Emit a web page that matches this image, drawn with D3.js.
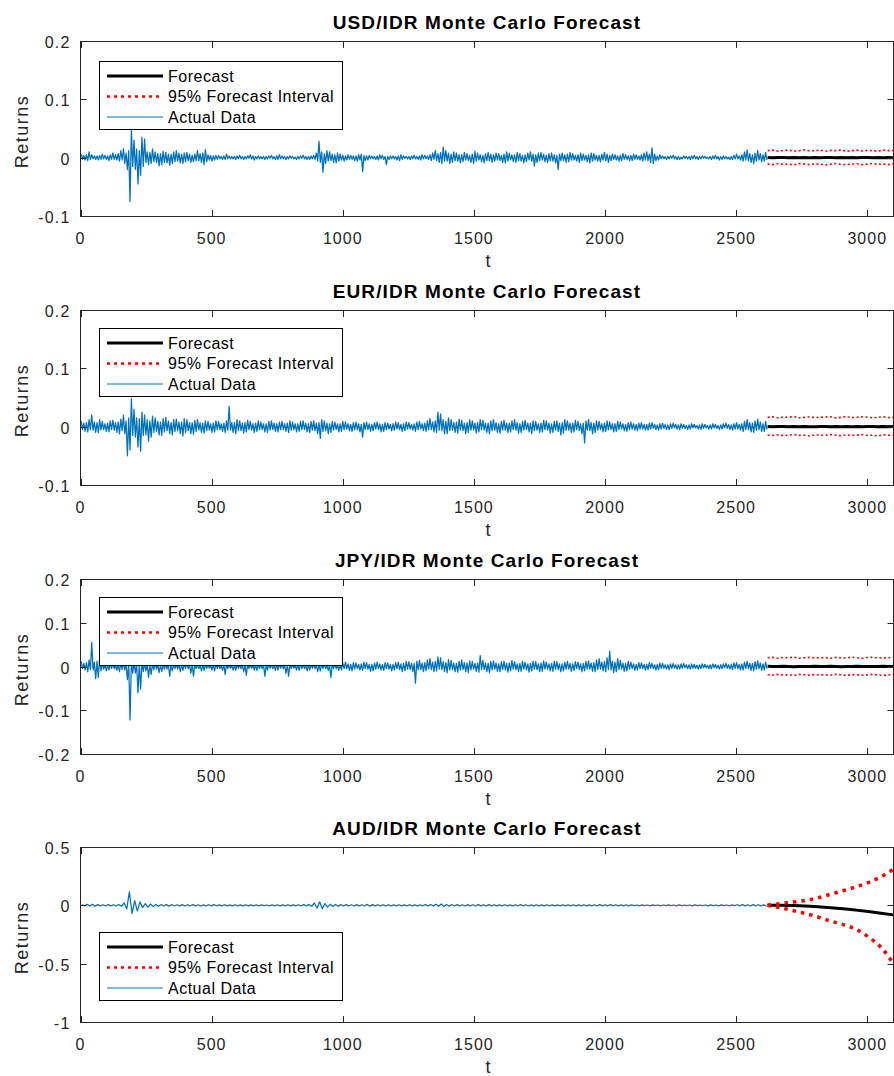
<!DOCTYPE html>
<html><head><meta charset="utf-8">
<script src="https://cdn.jsdelivr.net/npm/d3@7"></script>
<style>
body{margin:0;background:#fff}
svg{display:block}
text{font-family:"Liberation Sans",Arial,Helvetica,sans-serif}
</style>
</head><body>
<svg id="c" width="894" height="1076"></svg>
<script>
// ---------------- DATA (returns) ----------------
// Actual data read as alternating local highs / lows across t = 0..2620
const usdHi = [.006,.004,.005,.010,.005,.003,.003,.004,.006,.004,
.003,.005,.008,.005,.007,.012,.015,.008,.012,.050,
.030,.015,.012,.035,.032,.010,.009,.015,.010,.007,
.007,.011,.009,.006,.006,.010,.012,.008,.006,.008,
.009,.006,.004,.006,.012,.007,.008,.014,.005,.004,
.003,.004,.004,.002,.003,.006,.003,.002,.002,.003,
.004,.002,.002,.003,.005,.003,.002,.003,.002,.002,
.002,.003,.004,.002,.003,.005,.003,.002,.002,.003,
.002,.001,.002,.003,.004,.002,.002,.003,.004,.008,
.028,.010,.007,.012,.010,.006,.005,.008,.006,.004,
.003,.005,.004,.003,.003,.005,.006,.004,.003,.004,
.003,.002,.003,.005,.004,.002,.002,.003,.003,.002,
.003,.005,.003,.002,.002,.003,.004,.002,.003,.005,
.004,.003,.005,.008,.012,.007,.009,.018,.012,.008,
.006,.010,.008,.005,.005,.009,.007,.004,.006,.011,
.008,.005,.004,.007,.009,.006,.005,.008,.007,.004,
.006,.010,.008,.005,.005,.009,.007,.004,.005,.008,
.010,.006,.005,.008,.009,.006,.004,.007,.008,.005,
.004,.006,.008,.005,.006,.009,.007,.004,.005,.008,
.006,.004,.005,.008,.007,.004,.004,.006,.009,.006,
.004,.006,.005,.003,.004,.007,.005,.003,.004,.006,
.005,.003,.005,.008,.010,.006,.017,.006,.003,.005,
.003,.002,.002,.003,.004,.002,.002,.001,.003,.002,
.002,.003,.004,.002,.002,.003,.002,.001,.002,.003,
.004,.002,.002,.003,.002,.001,.002,.004,.006,.003,
.005,.010,.013,.007,.005,.008,.012,.007,.005,.009];
const usdLo = [-.003,-.004,-.005,-.003,-.002,-.003,-.004,-.003,-.002,-.003,
-.005,-.003,-.003,-.004,-.006,-.004,-.010,-.020,-.075,-.015,
-.020,-.045,-.030,-.015,-.008,-.012,-.010,-.007,-.008,-.014,
-.012,-.008,-.009,-.013,-.010,-.007,-.006,-.009,-.010,-.007,
-.005,-.008,-.007,-.005,-.005,-.008,-.012,-.007,-.004,-.006,
-.004,-.003,-.002,-.003,-.003,-.002,-.002,-.002,-.003,-.002,
-.002,-.003,-.002,-.001,-.002,-.004,-.002,-.002,-.002,-.003,
-.002,-.001,-.002,-.003,-.003,-.002,-.002,-.003,-.002,-.001,
-.002,-.003,-.002,-.001,-.002,-.003,-.003,-.002,-.003,-.005,
-.008,-.025,-.010,-.006,-.005,-.008,-.009,-.006,-.004,-.006,
-.004,-.003,-.003,-.005,-.006,-.004,-.024,-.005,-.004,-.002,
-.002,-.003,-.004,-.002,-.003,-.012,-.003,-.002,-.002,-.004,
-.005,-.003,-.001,-.002,-.003,-.002,-.002,-.003,-.004,-.002,
-.002,-.003,-.005,-.003,-.005,-.008,-.010,-.006,-.006,-.010,
-.008,-.005,-.006,-.009,-.007,-.004,-.005,-.008,-.010,-.006,
-.004,-.007,-.009,-.005,-.005,-.008,-.006,-.004,-.005,-.008,
-.009,-.006,-.004,-.007,-.008,-.005,-.006,-.009,-.007,-.004,
-.006,-.014,-.008,-.005,-.004,-.007,-.008,-.005,-.006,-.009,
-.020,-.005,-.005,-.008,-.007,-.004,-.004,-.006,-.008,-.005,
-.004,-.007,-.009,-.006,-.004,-.006,-.007,-.004,-.005,-.008,
-.005,-.003,-.004,-.006,-.005,-.003,-.003,-.005,-.005,-.003,
-.003,-.004,-.006,-.004,-.005,-.008,-.010,-.005,-.004,-.002,
-.002,-.003,-.002,-.001,-.002,-.003,-.003,-.002,-.001,-.002,
-.003,-.002,-.002,-.003,-.002,-.001,-.001,-.002,-.003,-.002,
-.002,-.004,-.003,-.002,-.002,-.003,-.003,-.002,-.002,-.004,
-.006,-.004,-.005,-.008,-.010,-.006,-.004,-.007,-.006,-.004];

const eurHi = [.010,.006,.007,.012,.020,.008,.007,.012,.009,.005,
.006,.010,.011,.007,.008,.013,.020,.010,.015,.048,
.030,.015,.014,.025,.020,.012,.010,.018,.015,.009,
.008,.014,.016,.010,.007,.012,.013,.008,.008,.014,
.012,.007,.007,.011,.012,.007,.006,.010,.009,.005,
.006,.010,.009,.005,.006,.010,.035,.007,.007,.012,
.010,.006,.007,.011,.009,.005,.006,.010,.008,.005,
.005,.009,.010,.006,.005,.008,.009,.005,.006,.010,
.008,.005,.005,.009,.010,.006,.005,.009,.010,.006,
.007,.012,.010,.006,.005,.009,.008,.005,.005,.009,
.008,.005,.004,.007,.008,.005,.004,.007,.008,.005,
.004,.007,.008,.005,.004,.007,.006,.004,.005,.008,
.007,.004,.005,.008,.007,.004,.005,.008,.009,.005,
.006,.010,.014,.008,.010,.025,.022,.012,.009,.015,
.012,.007,.008,.013,.011,.006,.007,.012,.010,.006,
.007,.012,.011,.006,.006,.010,.012,.007,.005,.009,
.011,.006,.006,.010,.012,.007,.005,.009,.011,.006,
.006,.010,.009,.005,.006,.011,.010,.006,.005,.009,
.010,.006,.007,.012,.010,.006,.006,.011,.009,.005,
.006,.010,.012,.007,.006,.010,.009,.005,.006,.010,
.008,.005,.005,.009,.008,.005,.004,.007,.008,.005,
.004,.006,.007,.004,.004,.006,.007,.004,.003,.005,
.006,.004,.003,.005,.006,.004,.003,.005,.004,.002,
.003,.005,.004,.002,.003,.005,.004,.002,.003,.005,
.004,.002,.003,.005,.006,.004,.003,.005,.007,.004,
.005,.009,.012,.007,.006,.010,.013,.008,.005,.009];
const eurLo = [-.005,-.008,-.009,-.005,-.006,-.010,-.010,-.006,-.005,-.008,
-.009,-.005,-.006,-.010,-.012,-.007,-.012,-.050,-.040,-.015,
-.018,-.035,-.042,-.015,-.014,-.025,-.018,-.010,-.008,-.014,
-.015,-.009,-.007,-.012,-.014,-.008,-.007,-.012,-.016,-.010,
-.007,-.012,-.013,-.008,-.006,-.010,-.011,-.007,-.006,-.010,
-.009,-.005,-.005,-.008,-.010,-.006,-.006,-.010,-.012,-.007,
-.007,-.011,-.009,-.005,-.006,-.010,-.008,-.005,-.005,-.009,
-.010,-.006,-.005,-.008,-.009,-.005,-.005,-.008,-.010,-.006,
-.005,-.009,-.008,-.005,-.005,-.009,-.010,-.006,-.007,-.012,
-.020,-.008,-.007,-.012,-.010,-.006,-.005,-.009,-.008,-.005,
-.004,-.007,-.008,-.005,-.005,-.009,-.018,-.005,-.005,-.008,
-.007,-.004,-.005,-.009,-.008,-.005,-.004,-.007,-.006,-.004,
-.005,-.008,-.007,-.004,-.004,-.006,-.008,-.005,-.004,-.007,
-.008,-.005,-.005,-.009,-.010,-.006,-.007,-.012,-.012,-.007,
-.006,-.010,-.011,-.006,-.007,-.012,-.010,-.006,-.006,-.011,
-.009,-.005,-.006,-.010,-.012,-.007,-.006,-.010,-.011,-.006,
-.006,-.010,-.009,-.005,-.006,-.011,-.010,-.006,-.005,-.009,
-.012,-.007,-.006,-.010,-.009,-.005,-.006,-.011,-.010,-.006,
-.008,-.014,-.011,-.006,-.006,-.010,-.009,-.005,-.007,-.012,
-.028,-.006,-.007,-.012,-.010,-.006,-.005,-.009,-.008,-.005,
-.005,-.009,-.008,-.005,-.004,-.007,-.008,-.005,-.004,-.006,
-.007,-.004,-.004,-.006,-.006,-.004,-.003,-.005,-.006,-.004,
-.003,-.005,-.005,-.003,-.002,-.004,-.005,-.003,-.003,-.005,
-.004,-.002,-.002,-.004,-.005,-.003,-.002,-.004,-.004,-.002,
-.003,-.005,-.004,-.002,-.003,-.005,-.006,-.004,-.004,-.006,
-.008,-.005,-.005,-.009,-.010,-.006,-.005,-.008,-.008,-.005];

const jpyHi = [.012,.007,.009,.015,.055,.010,.012,.020,.008,.005,
.004,.006,.007,.004,.005,.008,.010,.006,.007,.012,
.010,.006,.007,.012,.008,.005,.004,.007,.008,.005,
.004,.006,.007,.004,.004,.006,.007,.004,.004,.006,
.007,.004,.004,.006,.005,.003,.004,.006,.005,.003,
.004,.006,.005,.003,.004,.006,.005,.003,.004,.006,
.005,.003,.004,.006,.005,.003,.004,.006,.005,.003,
.004,.006,.005,.003,.004,.006,.005,.003,.004,.006,
.005,.003,.004,.006,.005,.003,.004,.006,.005,.003,
.004,.006,.005,.003,.004,.007,.006,.004,.005,.008,
.010,.006,.005,.009,.008,.005,.006,.010,.009,.005,
.005,.008,.010,.006,.005,.009,.008,.005,.005,.009,
.010,.006,.007,.012,.011,.007,.007,.012,.014,.008,
.009,.015,.018,.010,.012,.022,.020,.011,.009,.016,
.014,.008,.007,.012,.015,.009,.008,.013,.012,.007,
.008,.025,.014,.008,.007,.012,.013,.008,.006,.011,
.012,.007,.008,.014,.011,.006,.007,.012,.010,.006,
.007,.012,.011,.006,.008,.013,.010,.006,.007,.012,
.011,.006,.006,.010,.012,.007,.006,.011,.010,.006,
.007,.012,.013,.008,.009,.015,.018,.010,.011,.020,
.035,.012,.010,.018,.014,.008,.007,.012,.010,.006,
.005,.009,.008,.005,.005,.009,.007,.004,.005,.008,
.007,.004,.004,.006,.007,.004,.004,.006,.007,.004,
.004,.006,.005,.003,.004,.006,.005,.003,.004,.006,
.005,.003,.004,.006,.007,.004,.005,.008,.009,.005,
.006,.010,.012,.007,.007,.011,.013,.008,.006,.010];
const jpyLo = [-.005,-.008,-.012,-.007,-.008,-.028,-.025,-.010,-.006,-.010,
-.008,-.005,-.005,-.009,-.012,-.007,-.008,-.030,-.122,-.015,
-.015,-.060,-.052,-.012,-.010,-.025,-.018,-.008,-.006,-.014,
-.012,-.006,-.006,-.022,-.010,-.005,-.006,-.012,-.009,-.005,
-.005,-.015,-.022,-.005,-.005,-.010,-.009,-.005,-.004,-.008,
-.010,-.005,-.005,-.009,-.018,-.005,-.004,-.008,-.009,-.005,
-.005,-.012,-.020,-.005,-.004,-.008,-.009,-.005,-.005,-.022,
-.008,-.004,-.005,-.009,-.008,-.004,-.005,-.016,-.022,-.005,
-.004,-.008,-.009,-.005,-.005,-.010,-.008,-.004,-.005,-.012,
-.010,-.005,-.005,-.009,-.025,-.005,-.005,-.009,-.008,-.005,
-.005,-.009,-.010,-.006,-.005,-.008,-.009,-.005,-.006,-.011,
-.010,-.006,-.005,-.008,-.009,-.005,-.006,-.010,-.008,-.005,
-.007,-.012,-.010,-.006,-.007,-.012,-.038,-.007,-.007,-.012,
-.010,-.006,-.007,-.012,-.010,-.006,-.007,-.012,-.014,-.008,
-.007,-.012,-.013,-.008,-.007,-.012,-.014,-.008,-.006,-.011,
-.013,-.007,-.007,-.012,-.014,-.008,-.006,-.011,-.012,-.007,
-.008,-.013,-.010,-.006,-.007,-.012,-.011,-.006,-.008,-.013,
-.010,-.006,-.007,-.012,-.011,-.006,-.006,-.010,-.011,-.006,
-.007,-.012,-.010,-.006,-.006,-.011,-.009,-.005,-.007,-.012,
-.010,-.006,-.006,-.011,-.012,-.007,-.006,-.010,-.012,-.007,
-.008,-.014,-.012,-.007,-.006,-.011,-.010,-.006,-.005,-.009,
-.008,-.005,-.005,-.008,-.007,-.004,-.005,-.008,-.007,-.004,
-.004,-.006,-.007,-.004,-.004,-.006,-.006,-.004,-.003,-.005,
-.006,-.004,-.004,-.006,-.005,-.003,-.003,-.005,-.005,-.003,
-.004,-.006,-.005,-.003,-.004,-.006,-.007,-.004,-.005,-.008,
-.008,-.005,-.005,-.009,-.010,-.006,-.005,-.009,-.008,-.005];

const audHi = [.006,.008,.010,.006,.005,.006,.005,.007,.020,.115,
.040,.030,.015,.010,.008,.007,.006,.007,.005,.006,
.005,.006,.005,.004,.005,.006,.004,.005,.004,.005,
.004,.005,.004,.005,.004,.003,.004,.005,.004,.005,
.004,.005,.006,.008,.020,.030,.015,.010,.008,.006,
.006,.005,.006,.005,.008,.006,.005,.004,.005,.004,
.005,.004,.005,.004,.005,.006,.007,.010,.012,.008,
.007,.006,.005,.006,.005,.006,.005,.006,.005,.004,
.005,.004,.005,.006,.005,.004,.005,.004,.005,.004,
.004,.005,.004,.005,.004,.005,.004,.005,.006,.005,
.006,.005,.004,.005,.004,.003,.004,.003,.004,.003,
.003,.004,.003,.004,.003,.003,.004,.003,.003,.004,
.003,.004,.003,.004,.005,.006,.005,.006,.005,.004];
const audLo = [-.005,-.006,-.008,-.005,-.004,-.005,-.006,-.008,-.030,-.070,
-.050,-.020,-.015,-.010,-.008,-.006,-.007,-.006,-.005,-.006,
-.004,-.005,-.006,-.004,-.005,-.004,-.005,-.004,-.005,-.004,
-.005,-.004,-.005,-.004,-.003,-.004,-.005,-.004,-.005,-.004,
-.005,-.004,-.006,-.008,-.025,-.030,-.015,-.010,-.008,-.006,
-.005,-.006,-.005,-.006,-.007,-.005,-.004,-.005,-.004,-.005,
-.004,-.005,-.004,-.005,-.004,-.005,-.006,-.008,-.010,-.007,
-.006,-.005,-.006,-.005,-.006,-.005,-.006,-.005,-.004,-.005,
-.004,-.005,-.004,-.005,-.006,-.005,-.004,-.005,-.004,-.005,
-.005,-.004,-.005,-.004,-.005,-.004,-.005,-.004,-.005,-.004,
-.005,-.004,-.005,-.004,-.003,-.004,-.003,-.004,-.003,-.004,
-.003,-.003,-.004,-.003,-.003,-.004,-.003,-.003,-.004,-.003,
-.004,-.003,-.004,-.003,-.004,-.005,-.006,-.005,-.004,-.005];

// Forecast (t = 2620..3100, step 20) for USD / EUR / JPY
const usdFcMean = [.0003,-.0002,.0004,.0001,-.0003,.0002,.0000,.0004,-.0001,.0003,-.0002,.0001,.0004,-.0003,.0002,.0000,.0003,-.0002,.0001,.0004,-.0001,.0002,.0000,.0003,-.0002];
const usdFcUp   = [.012,.013,.011,.0125,.013,.011,.012,.0135,.0115,.012,.013,.011,.0125,.012,.0135,.011,.012,.013,.0115,.0125,.012,.011,.013,.012,.0125];
const usdFcLo   = [-.011,-.012,-.010,-.0115,-.011,-.0125,-.010,-.011,-.012,-.0105,-.011,-.0125,-.011,-.010,-.0115,-.012,-.011,-.0105,-.012,-.011,-.010,-.0115,-.011,-.012,-.0105];
const eurFcMean = [.0002,-.0003,.0001,.0004,-.0002,.0003,-.0001,.0002,.0000,-.0003,.0004,.0001,-.0002,.0003,.0000,.0002,-.0001,.0004,-.0002,.0001,.0003,-.0003,.0002,.0000,.0001];
const eurFcUp   = [.016,.017,.015,.0165,.016,.0175,.015,.016,.017,.0155,.016,.0165,.017,.015,.016,.0175,.0155,.016,.017,.0165,.015,.016,.017,.0155,.016];
const eurFcLo   = [-.0145,-.015,-.014,-.0155,-.0145,-.0135,-.015,-.0145,-.016,-.014,-.0145,-.015,-.0135,-.0145,-.0155,-.014,-.015,-.0145,-.0135,-.015,-.0145,-.016,-.014,-.0145,-.015];
const jpyFcMean = [.0003,.0001,-.0002,.0004,.0000,-.0003,.0002,.0001,-.0001,.0003,.0000,-.0002,.0004,.0001,-.0003,.0002,.0000,.0003,-.0002,.0001,.0002,-.0001,.0003,.0000,-.0002];
const jpyFcUp   = [.020,.021,.019,.0205,.020,.0215,.019,.020,.021,.0195,.020,.0205,.019,.021,.020,.0195,.0215,.020,.019,.0205,.021,.020,.0195,.020,.021];
const jpyFcLo   = [-.019,-.020,-.018,-.0195,-.019,-.0205,-.018,-.019,-.020,-.0185,-.019,-.0195,-.020,-.018,-.019,-.0205,-.0185,-.019,-.020,-.0195,-.018,-.019,-.0205,-.019,-.0185];
// Forecast for AUD (t = 2620..3100, step 48)
const audFcMean = [0,0,-.002,-.006,-.012,-.020,-.030,-.041,-.053,-.067,-.082];
const audFcUp   = [0,.015,.028,.042,.065,.095,.125,.158,.195,.245,.31];
const audFcLo   = [0,-.02,-.045,-.07,-.10,-.135,-.165,-.205,-.27,-.36,-.50];

const titles = ["USD/IDR Monte Carlo Forecast","EUR/IDR Monte Carlo Forecast","JPY/IDR Monte Carlo Forecast","AUD/IDR Monte Carlo Forecast"];
const xTicks = [0,500,1000,1500,2000,2500,3000];
const yTickSets = [[-0.1,0,0.1,0.2],[-0.1,0,0.1,0.2],[-0.2,-0.1,0,0.1,0.2],[-1,-0.5,0,0.5]];
const yDomains = [[-0.1,0.2],[-0.1,0.2],[-0.2,0.2],[-1,0.5]];
const legendLabels = ["Forecast","95% Forecast Interval","Actual Data"];
const xLabel = "t", yLabel = "Returns";
const tEndActual = 2620, tEndAll = 3100;

// ---------------- DRAW ----------------
const svg = d3.select("#c");
const L = 80.5, R = 893.5, H = 175;
const tops = [41, 310, 579, 847];
const x = d3.scaleLinear().domain([0, tEndAll]).range([L, R]);
const fcT1 = d3.range(2620, 3101, 20);
const fcT4 = d3.range(2620, 3101, 48);

const panels = [
  {hi:usdHi, lo:usdLo, m:usdFcMean, u:usdFcUp, l:usdFcLo, ft:fcT1, legTop:61, red:{w:1.6,d:"2,2.5"}},
  {hi:eurHi, lo:eurLo, m:eurFcMean, u:eurFcUp, l:eurFcLo, ft:fcT1, legTop:328, red:{w:1.6,d:"2,2.5"}},
  {hi:jpyHi, lo:jpyLo, m:jpyFcMean, u:jpyFcUp, l:jpyFcLo, ft:fcT1, legTop:597, red:{w:1.6,d:"2,2.5"}},
  {hi:audHi, lo:audLo, m:audFcMean, u:audFcUp, l:audFcLo, ft:fcT4, legTop:932, red:{w:3.5,d:"3.5,5"}, smooth:true}
];
const axisCol = "#262626";

panels.forEach((p, k) => {
  const top = tops[k], bot = top + H;
  const y = d3.scaleLinear().domain(yDomains[k]).range([bot, top]);
  const g = svg.append("g");
  const cid = "clip" + k;
  svg.append("clipPath").attr("id", cid).append("rect")
    .attr("x", L).attr("y", top).attr("width", R - L).attr("height", H);

  // actual data: alternating highs and lows
  const bw = tEndActual / p.hi.length;
  const pts = [];
  p.hi.forEach((v, i) => {
    pts.push([i * bw + bw * 0.25, v]);
    pts.push([i * bw + bw * 0.75, p.lo[i]]);
  });
  const line = d3.line().x(d => x(d[0])).y(d => y(d[1]));
  const dg = g.append("g").attr("clip-path", `url(#${cid})`);
  dg.append("path").attr("d", line(pts)).attr("fill", "none")
    .attr("stroke", "#0072BD").attr("stroke-width", 1.25).attr("stroke-linejoin", "round");

  const fl = d3.line().x((d, i) => x(p.ft[i])).y(d => y(d));
  if (p.smooth) fl.curve(d3.curveMonotoneX);
  dg.append("path").attr("d", fl(p.m)).attr("fill", "none")
    .attr("stroke", "#000").attr("stroke-width", 3);
  [p.u, p.l].forEach(arr => {
    dg.append("path").attr("d", fl(arr)).attr("fill", "none")
      .attr("stroke", "#ff0000").attr("stroke-width", p.red.w).attr("stroke-dasharray", p.red.d);
  });

  // box
  g.append("rect").attr("x", L).attr("y", top + 0.5).attr("width", R - L).attr("height", H)
    .attr("fill", "none").attr("stroke", axisCol).attr("stroke-width", 1);

  // x ticks
  xTicks.forEach(t => {
    const xx = Math.round(x(t)) + 0.5;
    g.append("line").attr("x1", xx).attr("x2", xx).attr("y1", bot + 0.5).attr("y2", bot - 6)
      .attr("stroke", axisCol);
    g.append("line").attr("x1", xx).attr("x2", xx).attr("y1", top + 0.5).attr("y2", top + 7)
      .attr("stroke", axisCol);
    g.append("text").attr("x", x(t)).attr("y", bot + 28).attr("text-anchor", "middle")
      .attr("font-size", 16).attr("letter-spacing", 1).attr("fill", axisCol).text(t);
  });
  // y ticks
  yTickSets[k].forEach(v => {
    const yy = Math.round(y(v)) + 0.5;
    g.append("line").attr("x1", L).attr("x2", L + 6).attr("y1", yy).attr("y2", yy).attr("stroke", axisCol);
    g.append("line").attr("x1", R - 6).attr("x2", R).attr("y1", yy).attr("y2", yy).attr("stroke", axisCol);
    g.append("text").attr("x", L - 10).attr("y", y(v) + 7).attr("text-anchor", "end")
      .attr("font-size", 16).attr("letter-spacing", 1.2).attr("fill", axisCol).text(String(v));
  });

  // labels
  g.append("text").attr("x", (L + R) / 2).attr("y", top - 12).attr("text-anchor", "middle")
    .attr("font-size", 19).attr("font-weight", "bold").attr("letter-spacing", 1.1)
    .attr("fill", "#000").text(titles[k]);
  g.append("text").attr("x", 488).attr("y", bot + 51).attr("text-anchor", "middle")
    .attr("font-size", 18).attr("fill", axisCol).text(xLabel);
  g.append("text").attr("transform", `translate(28,${top + H / 2 + 3}) rotate(-90)`)
    .attr("text-anchor", "middle").attr("font-size", 18).attr("letter-spacing", 1.5)
    .attr("fill", axisCol).text(yLabel);

  // legend
  const lt = p.legTop;
  const lg = g.append("g");
  lg.append("rect").attr("x", 99.5).attr("y", lt + 0.5).attr("width", 243).attr("height", 68)
    .attr("fill", "#fff").attr("stroke", "#000").attr("stroke-width", 1);
  const rows = [15, 35.5, 56];
  const styles = [
    {c:"#000", w:3, d:null},
    {c:"#ff0000", w:2.5, d:"3,4"},
    {c:"#0072BD", w:1, d:null}
  ];
  legendLabels.forEach((lab, i) => {
    const ry = lt + rows[i];
    const ln = lg.append("line").attr("x1", 107).attr("x2", 163).attr("y1", ry).attr("y2", ry)
      .attr("stroke", styles[i].c).attr("stroke-width", styles[i].w);
    if (styles[i].d) ln.attr("stroke-dasharray", styles[i].d);
    lg.append("text").attr("x", 168).attr("y", ry + 5.7).attr("font-size", 16)
      .attr("letter-spacing", 0.5).attr("fill", "#000").text(lab);
  });
});
</script>
</body></html>
